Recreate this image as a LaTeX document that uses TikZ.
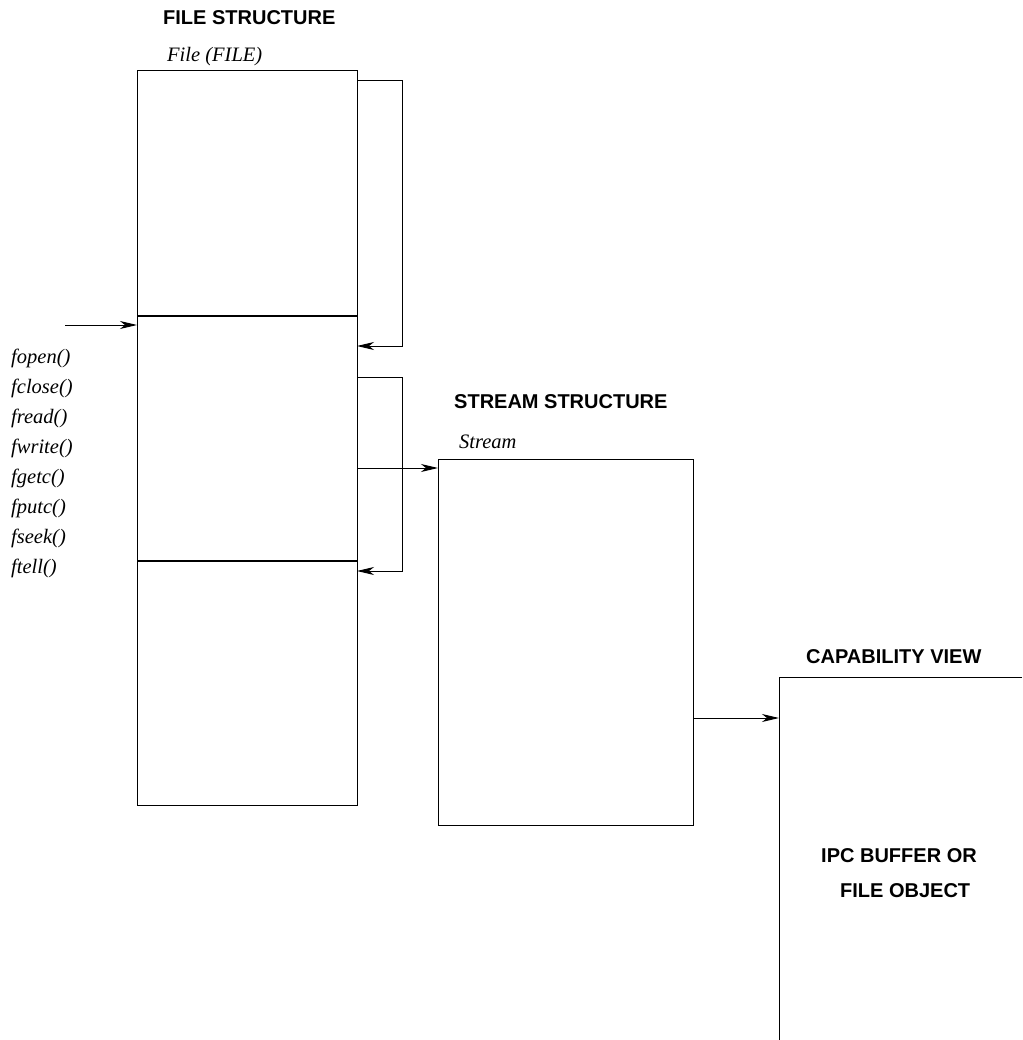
\documentclass[tikz,border=0pt]{standalone}
\usepackage{fontspec}
\setmainfont{Liberation Serif}
\newfontfamily\headfont{Liberation Sans}
\usetikzlibrary{arrows.meta}

\tikzset{
  box/.style={draw, line width=1pt, inner sep=0pt, outer sep=0pt, anchor=north west},
  divider/.style={line width=1.8pt},
  link/.style={line width=1pt, -{Stealth[length=17pt,width=8pt,inset=5pt]}},
  heading/.style={inner sep=0pt, anchor=base west, font=\headfont\bfseries\fontsize{20}{24}\selectfont},
  tag/.style={inner sep=0pt, anchor=base west, font=\itshape\fontsize{20.5}{24}\selectfont},
}

\begin{document}
\begin{tikzpicture}[x=1pt,y=-1pt]
\useasboundingbox (0,0) rectangle (1022,1040);

% FILE structure: three stacked sections
\node[box, minimum width=220pt, minimum height=245pt] (ftop) at (137,71) {};
\node[box, minimum width=220pt, minimum height=245pt] (fmid) at (137,316) {};
\node[box, minimum width=220pt, minimum height=244pt] (fbot) at (137,561) {};
\draw[divider] (fmid.north west) -- (fmid.north east);
\draw[divider] (fbot.north west) -- (fbot.north east);

% Stream structure
\node[box, minimum width=255pt, minimum height=366pt] (stream) at (438,459) {};

% Capability view (open to the right and below)
\coordinate (capc) at (779,677);
\draw[line width=1pt] (1022,677) -- (capc) -- (779,1040);

% Headings and names
\node[heading] (hfile) at (163,25) {FILE STRUCTURE};
\node[tag] (nfile) at (167,62) {File (FILE)};
\node[heading] (hstream) at (454,408) {STREAM STRUCTURE};
\node[tag] (nstream) at (459,448) {Stream};
\node[heading] (hcap) at (806,663) {CAPABILITY VIEW};
\node[heading] (ipc1) at (821,862) {IPC BUFFER OR};
\node[heading] (ipc2) at (840,897) {FILE OBJECT};

% Library calls
\foreach \fn [count=\i from 0] in {fopen(),fclose(),fread(),fwrite(),fgetc(),fputc(),fseek(),ftell()}
  \node[tag] (fn\i) at (11,363+30*\i) {\fn};

% Incoming call
\coordinate (inL) at (65,325);
\draw[link] (inL) -- (inL -| fmid.west);

% Self links of the FILE structure
\draw[link] ([yshift=-10pt]ftop.north east) -- ++(45,0) |- ([yshift=-30pt]fmid.north east);
\draw[link] ([yshift=-61pt]fmid.north east) -- ++(45,0) |- ([yshift=-10pt]fbot.north east);

% FILE -> Stream
\coordinate (sin) at ([yshift=-9pt]stream.north west);
\draw[link] (fmid.east |- sin) -- (sin);

% Stream -> capability
\coordinate (capin) at (779,718);
\draw[link] (capin -| stream.east) -- (capin);
\end{tikzpicture}
\end{document}
